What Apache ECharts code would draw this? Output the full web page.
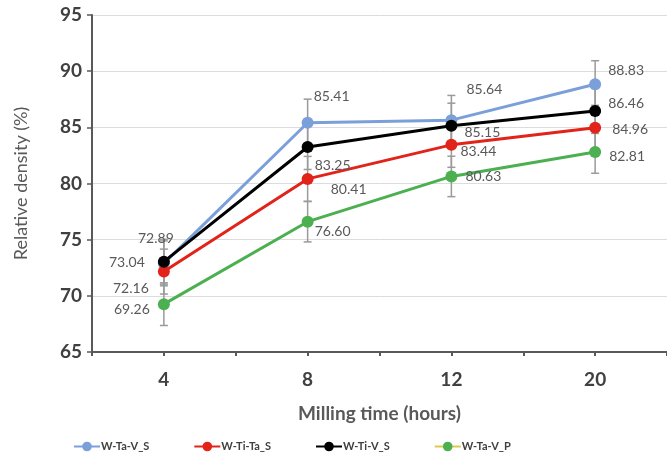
<!DOCTYPE html>
<html>
<head>
<meta charset="utf-8">
<script src="https://cdn.jsdelivr.net/npm/echarts@6/dist/echarts.min.js"></script>
<style>
  html, body { margin: 0; padding: 0; background: #fff; }
  #chart { width: 667px; height: 460px; }
</style>
</head>
<body>
<div id="chart"></div>
<script>
// Milling time categories (hours)
const millingHours = ['4', '8', '12', '20'];

// Relative density (%) per alloy
const seriesNames = ['W-Ta-V_S', 'W-Ti-Ta_S', 'W-Ti-V_S', 'W-Ta-V_P'];
const wTaVS  = [72.89, 85.41, 85.64, 88.83];
const wTiTaS = [72.16, 80.41, 83.44, 84.96];
const wTiVS  = [73.04, 83.25, 85.15, 86.46];
const wTaVP  = [69.26, 76.60, 80.63, 82.81];

// Standard deviation (error bar half-length)
const errTaVS  = [2.0, 2.1, 2.2, 2.1];
const errTiTaS = [2.0, 2.0, 2.0, 2.0];
const errTiVS  = [2.0, 2.0, 2.0, 2.0];
const errTaVP  = [1.9, 1.8, 1.8, 1.9];

// Y axis ticks
const yMin = 65, yMax = 95, yStep = 5;

// Label placement offsets (px, relative to marker centre)
const labelOffsets = {
  'W-Ta-V_S':  [[-8, -25], [24, -26], [33, -31], [31, -14]],
  'W-Ti-Ta_S': [[-33, 17], [41, 11], [27, 7], [35, 2]],
  'W-Ti-V_S':  [[-37, 1], [25, 18], [31, 7], [31, -7]],
  'W-Ta-V_P':  [[-32, 5], [25, 10], [32, 0], [32, 5]]
};
const colors = {
  'W-Ta-V_S': '#7b9fd9',
  'W-Ti-Ta_S': '#e2231a',
  'W-Ti-V_S': '#000000',
  'W-Ta-V_P': '#4caf50'
};
const values = { 'W-Ta-V_S': wTaVS, 'W-Ti-Ta_S': wTiTaS, 'W-Ti-V_S': wTiVS, 'W-Ta-V_P': wTaVP };
const errors = { 'W-Ta-V_S': errTaVS, 'W-Ti-Ta_S': errTiTaS, 'W-Ti-V_S': errTiVS, 'W-Ta-V_P': errTaVP };

const chart = echarts.init(document.getElementById('chart'));

function errorBarSeries(name) {
  const vals = values[name], errs = errors[name];
  return {
    type: 'custom',
    name: name + ' err',
    xAxisIndex: 0,
    yAxisIndex: 0,
    z: 1,
    silent: true,
    data: vals.map((v, i) => [i, v - errs[i], v + errs[i]]),
    renderItem: function (params, api) {
      const lo = api.coord([api.value(0), api.value(1)]);
      const hi = api.coord([api.value(0), api.value(2)]);
      const cap = 4;
      const style = { stroke: '#9a9a9a', lineWidth: 1.5 };
      return {
        type: 'group',
        children: [
          { type: 'line', shape: { x1: lo[0], y1: lo[1], x2: hi[0], y2: hi[1] }, style: style },
          { type: 'line', shape: { x1: lo[0] - cap, y1: lo[1], x2: lo[0] + cap, y2: lo[1] }, style: style },
          { type: 'line', shape: { x1: hi[0] - cap, y1: hi[1], x2: hi[0] + cap, y2: hi[1] }, style: style }
        ]
      };
    }
  };
}

function lineSeries(name) {
  const offs = labelOffsets[name];
  return {
    type: 'line',
    name: name,
    z: 3,
    symbol: 'circle',
    symbolSize: 12,
    color: colors[name],
    lineStyle: { width: 3, color: colors[name] },
    itemStyle: { color: colors[name] },
    data: values[name].map((v, i) => ({
      value: v,
      label: { offset: offs[i] }
    })),
    label: {
      show: true,
      position: 'inside',
      align: 'center',
      verticalAlign: 'middle',
      formatter: p => p.value.toFixed(2),
      color: '#595959',
      fontFamily: 'Lato',
      fontSize: 14
    }
  };
}

const series = [];
seriesNames.forEach(n => series.push(errorBarSeries(n)));
seriesNames.forEach(n => series.push(lineSeries(n)));

chart.setOption({
  animation: false,
  backgroundColor: '#ffffff',
  grid: { left: 92, right: 0, top: 15, bottom: 108, containLabel: false },
  legend: {
    left: 68,
    top: 436,
    itemWidth: 26,
    itemHeight: 12,
    itemGap: 44,
    textStyle: { fontFamily: 'Lato', fontWeight: 'bold', fontSize: 11, color: '#404040', padding: [0, 0, 0, -4] },
    data: [
      { name: 'W-Ta-V_S' },
      { name: 'W-Ti-Ta_S' },
      { name: 'W-Ti-V_S' },
      { name: 'W-Ta-V_P', lineStyle: { color: '#d6cc4a' } }
    ]
  },
  xAxis: [
    {
      type: 'category',
      data: millingHours,
      boundaryGap: true,
      name: 'Milling time (hours)',
      nameLocation: 'middle',
      nameGap: 52,
      nameTextStyle: { fontFamily: 'Lato', fontWeight: 'bold', fontSize: 19, color: '#595959' },
      axisLine: { lineStyle: { color: '#595959', width: 2 } },
      axisTick: { show: true, length: 4, lineStyle: { color: '#595959', width: 2 } },
      axisLabel: { fontFamily: 'Lato', fontWeight: 'bold', fontSize: 19, color: '#404040', margin: 18 }
    },
    {
      type: 'category',
      data: millingHours,
      boundaryGap: true,
      position: 'bottom',
      axisLine: { show: false },
      axisTick: { show: true, alignWithLabel: true, length: 4, lineStyle: { color: '#595959', width: 2 } },
      axisLabel: { show: false }
    }
  ],
  yAxis: {
    type: 'value',
    min: yMin,
    max: yMax,
    interval: yStep,
    name: 'Relative density (%)',
    nameLocation: 'middle',
    nameGap: 62,
    nameTextStyle: { fontFamily: 'Lato', fontSize: 18, color: '#595959' },
    axisLine: { show: true, lineStyle: { color: '#595959', width: 2 } },
    axisTick: { show: true, length: 5, lineStyle: { color: '#595959', width: 1.5 } },
    axisLabel: { fontFamily: 'Lato', fontWeight: 'bold', fontSize: 19, color: '#404040', margin: 10 },
    splitLine: { lineStyle: { color: '#dcdcdc', width: 1 } }
  },
  series: series
});
</script>
</body>
</html>
